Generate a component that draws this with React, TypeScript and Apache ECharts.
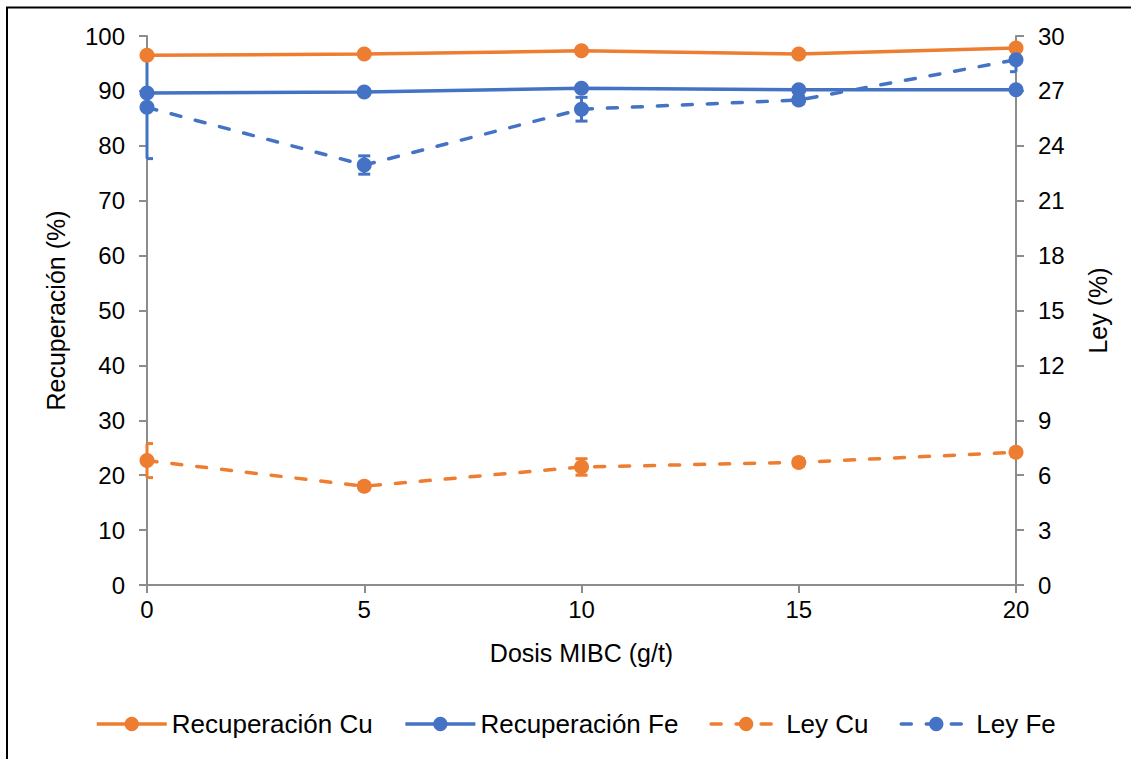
import React, { useEffect, useRef } from "react";
import * as echarts from "echarts";

// MIBC dosage (g/t) and measured results
const dosis = [0, 5, 10, 15, 20];
const recCu = [96.5, 96.7, 97.3, 96.7, 97.8];
const recFe = [89.6, 89.8, 90.5, 90.2, 90.2];
const leyCu = [6.8, 5.4, 6.45, 6.7, 7.25];
const leyFe = [26.1, 22.95, 26.0, 26.5, 28.7];
const leyCuErr = [0.93, 0.2, 0.45, 0.2, 0.2];
const leyFeErr = [2.8, 0.5, 0.65, 0.2, 0.65];

const xTicks = [0, 5, 10, 15, 20];
const leftTicks = [0, 10, 20, 30, 40, 50, 60, 70, 80, 90, 100];
const rightTicks = [0, 3, 6, 9, 12, 15, 18, 21, 24, 27, 30];

const ORANGE = "#ED7D31";
const BLUE = "#4472C4";
const AXIS = "#8C8C8C";
const FONT = "Liberation Sans, Arial, sans-serif";

const pairs = (ys: number[]) => dosis.map((x, i) => [x, ys[i]]);
const errRows = (ys: number[], errs: number[]) =>
  dosis.map((x, i) => [x, ys[i] - errs[i], ys[i] + errs[i]]);

function errorSeries(rows: number[][], color: string) {
  return {
    type: "custom",
    yAxisIndex: 1,
    silent: true,
    z: 1,
    data: rows,
    renderItem: (params: any, api: any) => {
      const cs = params.coordSys;
      const x = api.value(0);
      const lo = api.coord([x, api.value(1)]);
      const hi = api.coord([x, api.value(2)]);
      const half = 6;
      // caps are kept inside the plot area
      const left = Math.max(lo[0] - half, cs.x);
      const right = Math.min(lo[0] + half, cs.x + cs.width);
      const style = { stroke: color, lineWidth: 3 };
      return {
        type: "group",
        children: [
          { type: "line", shape: { x1: lo[0], y1: lo[1], x2: hi[0], y2: hi[1] }, style },
          { type: "line", shape: { x1: left, y1: lo[1], x2: right, y2: lo[1] }, style },
          { type: "line", shape: { x1: left, y1: hi[1], x2: right, y2: hi[1] }, style },
        ],
      };
    },
  };
}

function lineSeries(name: string, ys: number[], color: string, yAxisIndex: number, dashed: boolean) {
  return {
    name,
    type: "line",
    yAxisIndex,
    data: pairs(ys),
    symbol: "circle",
    symbolSize: 15,
    z: 3,
    itemStyle: { color },
    lineStyle: dashed
      ? { color, width: 3.5, type: [10, 15], cap: "round" }
      : { color, width: 3.5 },
  };
}

export default function App() {
  const ref = useRef<HTMLDivElement>(null);

  useEffect(() => {
    if (!ref.current) return;
    const chart = echarts.init(ref.current, null, { renderer: "svg" });
    const axisCommon = {
      axisLine: { show: true, lineStyle: { color: AXIS, width: 2 } },
      axisTick: { show: true, length: 8, lineStyle: { color: AXIS, width: 2 } },
      splitLine: { show: false },
      axisLabel: { color: "#000", fontSize: 24, fontFamily: FONT },
      nameTextStyle: { color: "#000", fontSize: 25, fontFamily: FONT },
    };
    chart.setOption({
      animation: false,
      backgroundColor: "#fff",
      grid: { left: 147, right: 115, top: 36, bottom: 174, containLabel: false },
      xAxis: {
        type: "value",
        min: xTicks[0],
        max: xTicks[xTicks.length - 1],
        interval: 5,
        name: "Dosis MIBC (g/t)",
        nameLocation: "middle",
        nameGap: 55,
        ...axisCommon,
        axisLabel: { ...axisCommon.axisLabel, margin: 12 },
      },
      yAxis: [
        {
          type: "value",
          position: "left",
          min: leftTicks[0],
          max: leftTicks[leftTicks.length - 1],
          interval: 10,
          name: "Recuperación (%)",
          nameLocation: "middle",
          nameGap: 79,
          nameRotate: 90,
          ...axisCommon,
          axisLabel: { ...axisCommon.axisLabel, margin: 22 },
        },
        {
          type: "value",
          position: "right",
          min: rightTicks[0],
          max: rightTicks[rightTicks.length - 1],
          interval: 3,
          name: "Ley (%)",
          nameLocation: "middle",
          nameGap: 69,
          nameRotate: 90,
          ...axisCommon,
          axisLabel: { ...axisCommon.axisLabel, margin: 22 },
        },
      ],
      legend: {
        bottom: 22,
        left: 95,
        padding: 0,
        itemWidth: 70,
        itemHeight: 18,
        itemGap: 31,
        lineStyle: { width: 3.5 },
        textStyle: { color: "#000", fontSize: 26, fontFamily: FONT },
        data: ["Recuperación Cu", "Recuperación Fe", "Ley Cu", "Ley Fe"],
      },
      graphic: [
        {
          type: "rect",
          shape: { x: 7, y: 7.5, width: 1300, height: 900 },
          style: { fill: "none", stroke: "#000", lineWidth: 2 },
          silent: true,
        },
      ],
      series: [
        lineSeries("Recuperación Cu", recCu, ORANGE, 0, false),
        lineSeries("Recuperación Fe", recFe, BLUE, 0, false),
        lineSeries("Ley Cu", leyCu, ORANGE, 1, true),
        lineSeries("Ley Fe", leyFe, BLUE, 1, true),
        errorSeries(errRows(leyCu, leyCuErr), ORANGE),
        errorSeries(errRows(leyFe, leyFeErr), BLUE),
      ],
    });
    return () => chart.dispose();
  }, []);

  return (
    <div
      ref={ref}
      style={{ position: "absolute", left: 0, top: 0, width: 1131, height: 759 }}
    />
  );
}
